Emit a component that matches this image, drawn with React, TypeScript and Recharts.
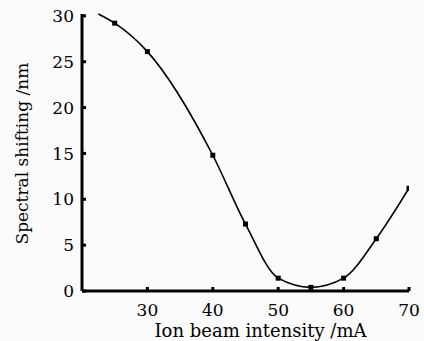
import { ComposedChart, Line, Scatter, XAxis, YAxis } from 'recharts';

// smooth fitted curve (starts left of the first measurement)
const curveX = [22.5, 25, 30, 40, 45, 50, 55, 60, 65, 70];
const curveY = [30.2, 29.2, 26.1, 14.8, 7.3, 1.4, 0.4, 1.4, 5.7, 11.2];

// measured points
const pointX = [25, 30, 40, 45, 50, 55, 60, 65, 70];
const pointY = [29.2, 26.1, 14.8, 7.3, 1.4, 0.4, 1.4, 5.7, 11.2];

const xTicks = [30, 40, 50, 60, 70];
const yTicks = [0, 5, 10, 15, 20, 25, 30];

const curve = curveX.map((x, i) => ({ x, y: curveY[i] }));
const points = pointX.map((x, i) => ({ x, y: pointY[i] }));

const font = '"DejaVu Serif", serif';

function YTick(props: any) {
  const { x, y, payload } = props;
  return (
    <g>
      <line x1={x} x2={x + 4} y1={y} y2={y} stroke="#000" strokeWidth={3} />
      <text x={x - 8} y={y} dy="0.36em" textAnchor="end" fontSize={17} fontFamily={font} fill="#000">
        {payload.value}
      </text>
    </g>
  );
}

function XTick(props: any) {
  const { x, y, payload } = props;
  return (
    <g>
      <line x1={x} x2={x} y1={y} y2={y - 4} stroke="#000" strokeWidth={3} />
      <text x={x} y={y} dy={25} textAnchor="middle" fontSize={17} fontFamily={font} fill="#000">
        {payload.value}
      </text>
    </g>
  );
}

function Marker(props: any) {
  const { cx, cy } = props;
  return <rect x={cx - 2.5} y={cy - 2.5} width={5} height={5} fill="#000" />;
}

export default function App() {
  return (
    <div style={{ position: 'fixed', left: 0, top: 0, width: 424, height: 341, background: '#fbfbfb' }}>
      <ComposedChart width={424} height={341} margin={{ top: 14, right: 15, bottom: 0, left: 42 }}>
        <XAxis
          type="number"
          dataKey="x"
          domain={[20, 70]}
          ticks={xTicks}
          allowDataOverflow
          axisLine={{ stroke: '#000', strokeWidth: 3 }}
          tickLine={false}
          tickSize={0}
          tickMargin={0}
          height={50}
          tick={<XTick />}
          label={{ value: 'Ion beam intensity /mA', position: 'insideBottom', dx: 15, dy: 1, fontSize: 18, fontFamily: font, fill: '#000' }}
        />
        <YAxis
          type="number"
          dataKey="y"
          domain={[0, 30]}
          ticks={yTicks}
          axisLine={{ stroke: '#000', strokeWidth: 3 }}
          tickLine={false}
          tickSize={0}
          tickMargin={0}
          width={40}
          tick={<YTick />}
          label={{ value: 'Spectral shifting /nm', angle: -90, position: 'insideLeft', dx: -25, dy: 92, fontSize: 17, fontFamily: font, fill: '#000' }}
        />
        <Line data={curve} dataKey="y" type="monotone" stroke="#000" strokeWidth={1.6} dot={false} isAnimationActive={false} />
        <Scatter data={points} dataKey="y" shape={<Marker />} isAnimationActive={false} />
      </ComposedChart>
    </div>
  );
}
